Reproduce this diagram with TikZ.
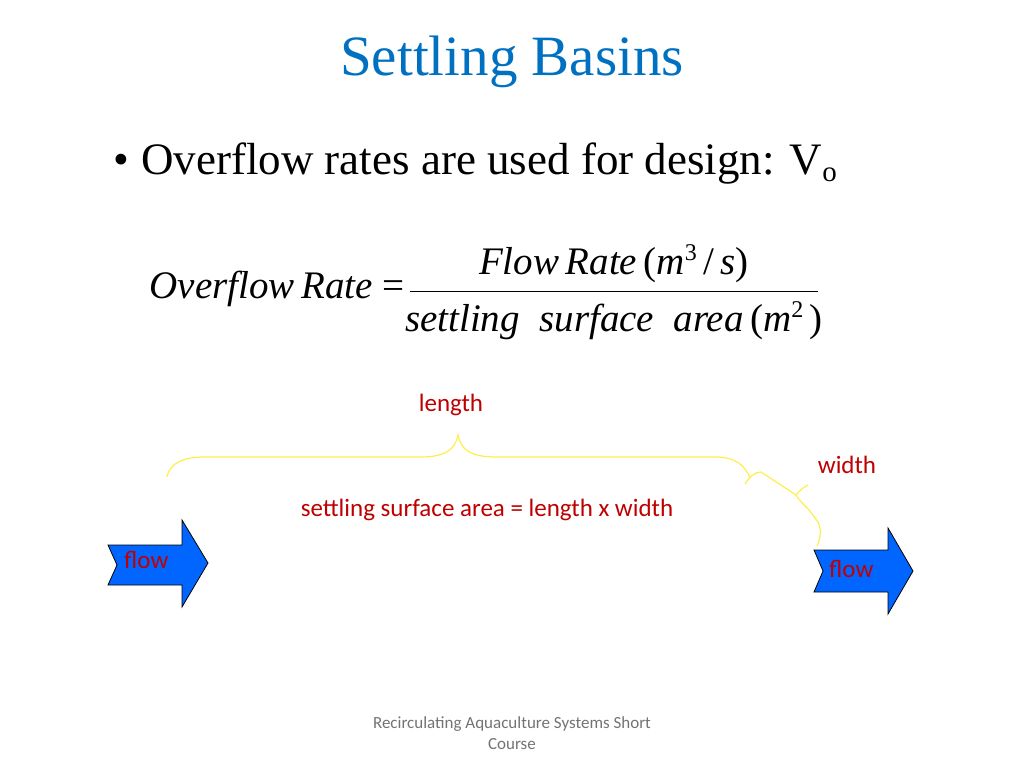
\documentclass[tikz,border=0pt]{standalone}
\usepackage{fontspec}
\setmainfont{Liberation Serif}
\newfontfamily\carl{Carlito}
\definecolor{fblue}{RGB}{0,102,255}
\begin{document}
\begin{tikzpicture}[x=1pt,y=-1pt,
  lbl/.style={font=\carl\fontsize{25}{29}\selectfont,text=red!75!black,inner sep=0},
  brace/.style={draw=yellow!90!orange!70!white,line width=1.2pt},
  farrow/.style={draw=black,fill=fblue,line width=0.8pt,line join=miter}]
\useasboundingbox (0,0) rectangle (1024,768);
\node (title) at (512,62) {\color[RGB]{0,112,192}\fontsize{57}{62}\selectfont Settling Basins};
\node[anchor=west] (bul) at (110,164) {\fontsize{45}{50}\selectfont\textbullet\hspace{12pt}Overflow rates are used for design: V\raisebox{-7pt}{\fontsize{29}{32}\selectfont o}};
\node[anchor=east] (lhs) at (408,289) {\fontsize{39}{44}\selectfont\itshape Overflow\,Rate \upshape=};
\node (num) at (614,264) {\fontsize{39}{44}\selectfont\itshape Flow\,Rate\,\upshape(\itshape m\raisebox{14pt}{\upshape\fontsize{24}{26}\selectfont 3}\upshape\,/\,\itshape s\upshape)};
\node (den) at (614,321) {\fontsize{39}{44}\selectfont\itshape settling\enspace surface\enspace area\,\upshape(\itshape m\raisebox{14pt}{\upshape\fontsize{24}{26}\selectfont 2}\upshape\,)};
\draw[line width=1pt] (410,291) -- (818,291);
\node[lbl] (len) at (451,405) {length};
\node[lbl] (wid) at (847,465) {width};
\node[lbl] (eq) at (487,510) {settling surface area = length x width};
\draw[brace] (167,477) .. controls (170,462) and (185,457) .. (205,457) -- (420,457) .. controls (445,457) and (455,450) .. (458,435) .. controls (461,450) and (471,457) .. (496,457) -- (715,457) .. controls (735,457) and (745,465) .. (750,478);
\draw[brace] (745,484) .. controls (750,476) and (755,472) .. (761,472) -- (796,495) .. controls (800,490) and (804,487) .. (808,485);
\draw[brace] (796,495) .. controls (800,502) and (806,506) .. (809,510) -- (818,522) .. controls (822,530) and (820,540) .. (817,546);
\draw[farrow] (108,545) -- (182,545) -- (182,520) -- (208,563) -- (182,607) -- (182,585) -- (108,585) -- (117,565) -- cycle;
\draw[farrow] (814,550) -- (888,550) -- (888,528) -- (913,571) -- (888,614) -- (888,592) -- (814,592) -- (823,571) -- cycle;
\node[lbl,anchor=west] (f1) at (124,560) {flow};
\node[lbl,anchor=west] (f2) at (829,569) {flow};
\node[font=\carl\fontsize{17}{21}\selectfont,text=black!55,align=center] (foot) at (512,733) {Recirculating Aquaculture Systems Short\\Course};
\end{tikzpicture}
\end{document}
